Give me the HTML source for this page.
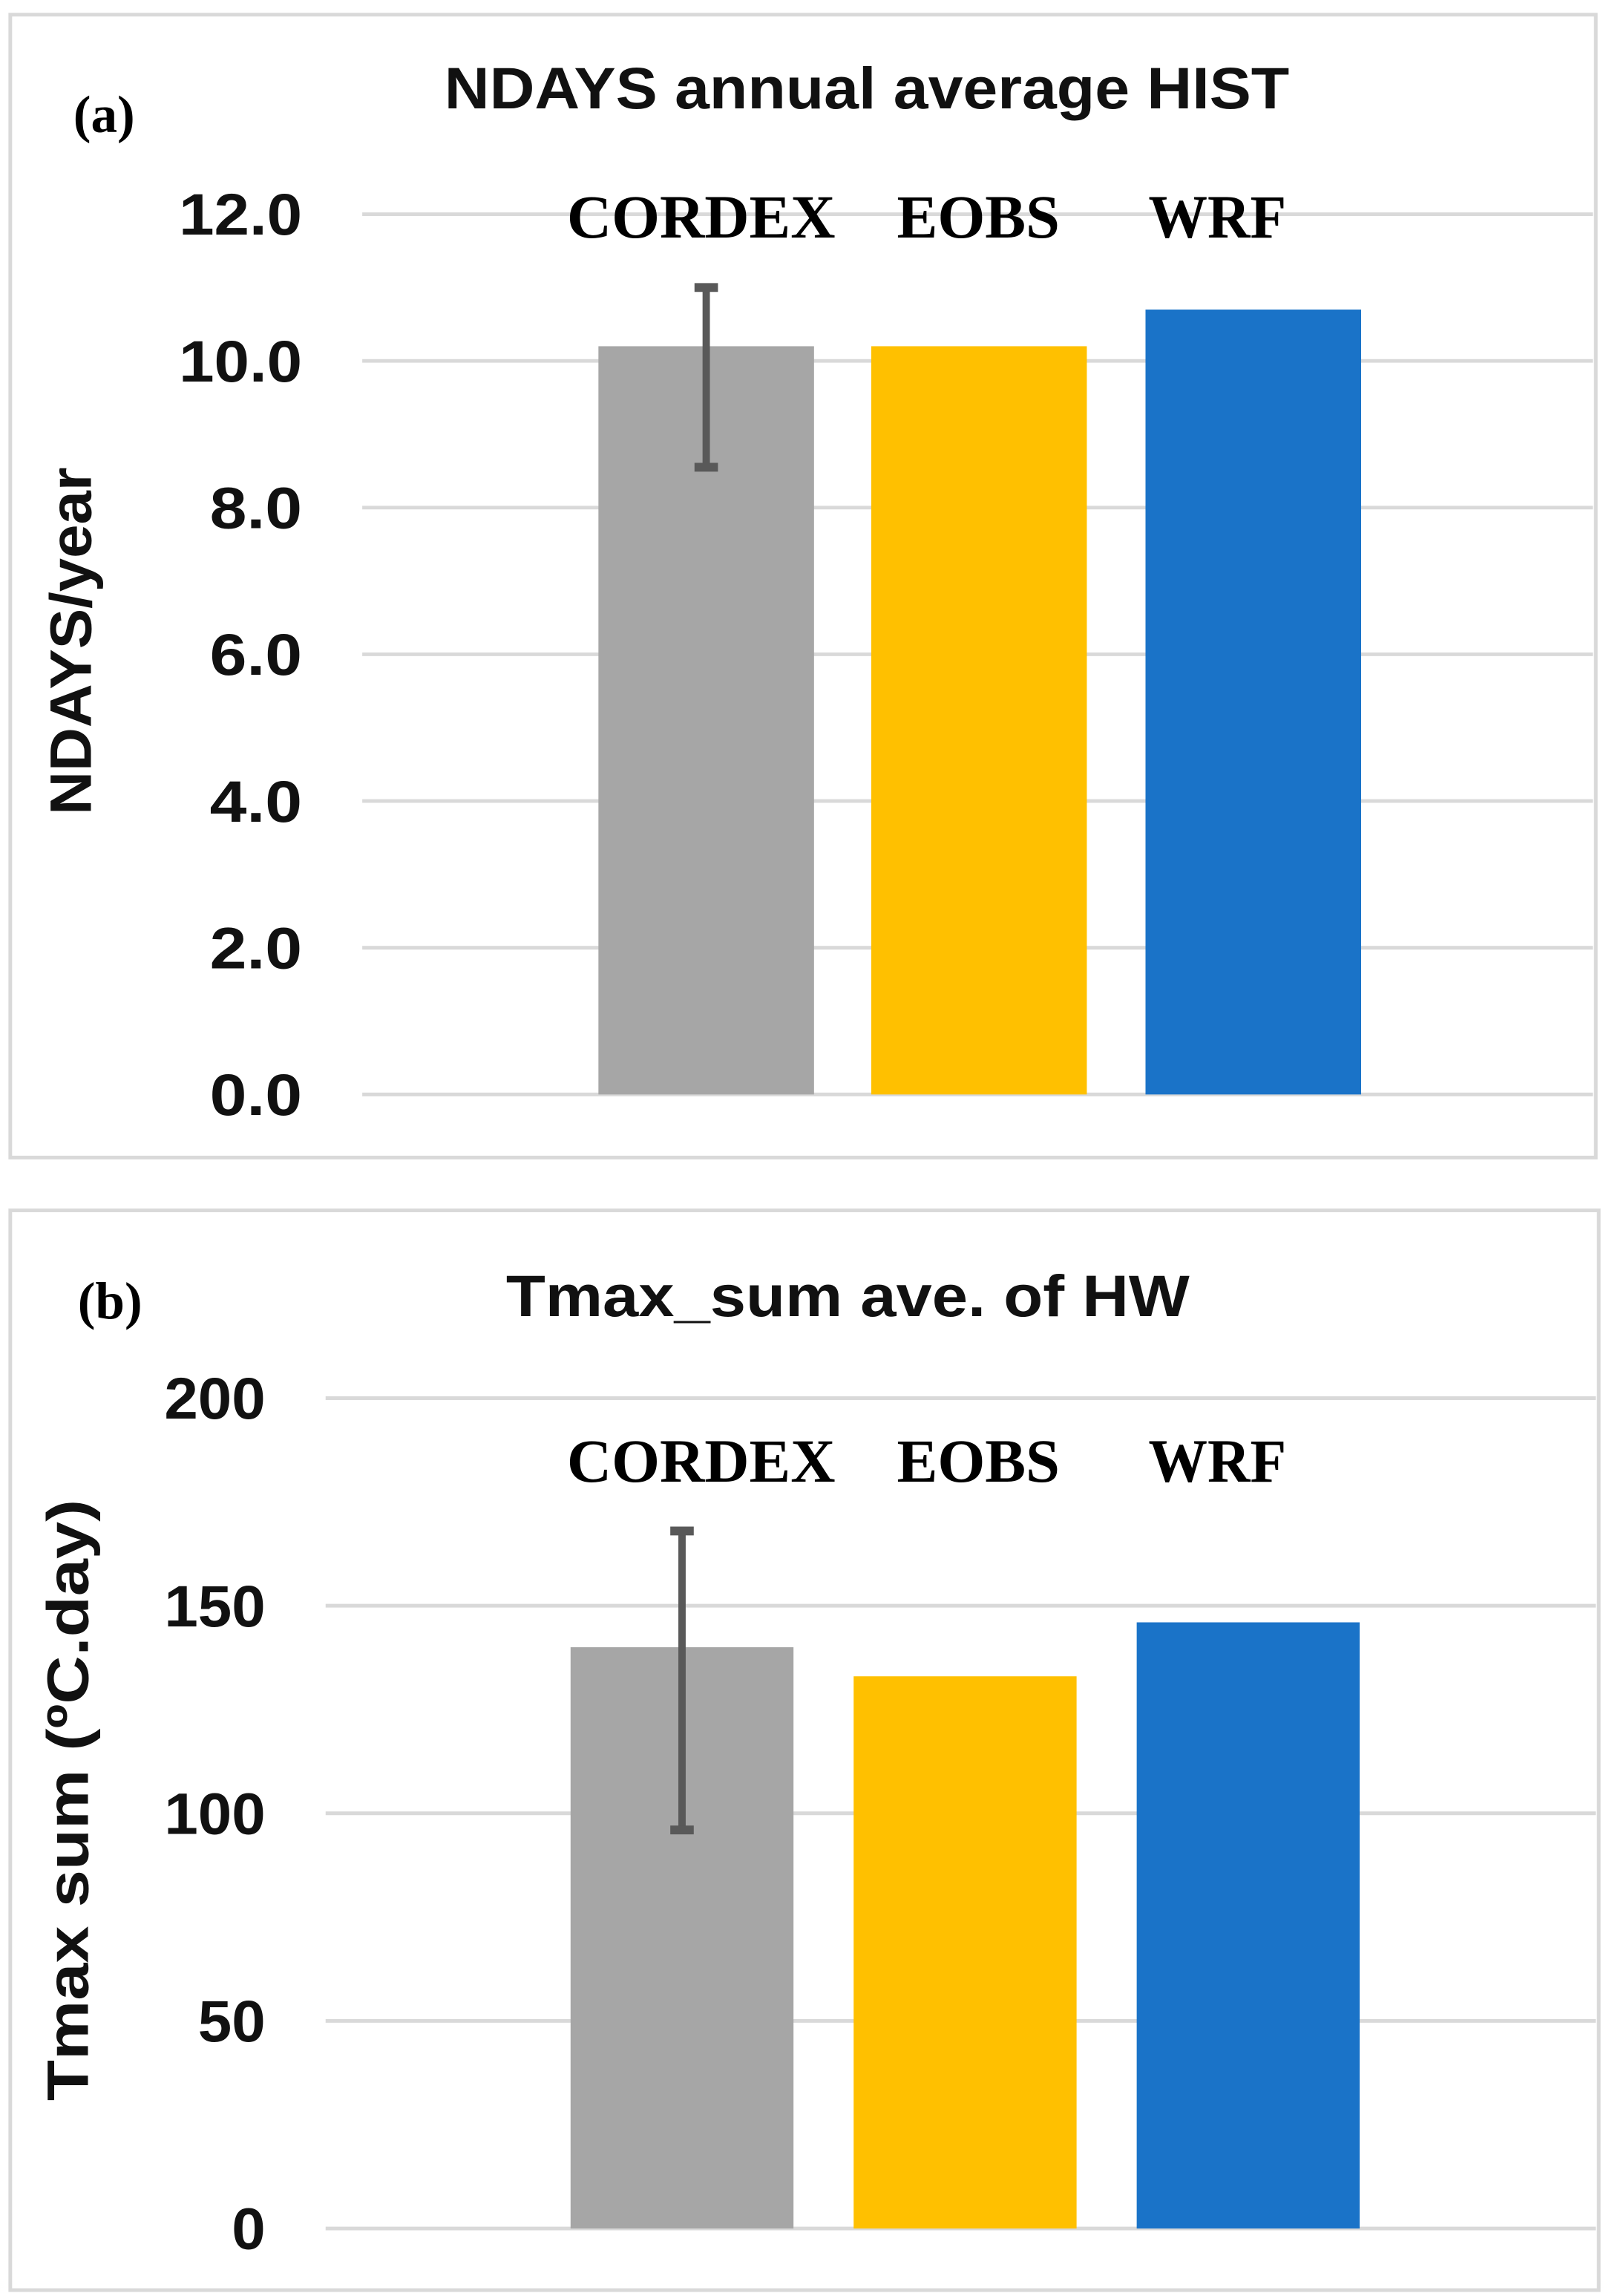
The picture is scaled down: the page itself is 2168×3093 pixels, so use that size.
<!DOCTYPE html>
<html><head><meta charset="utf-8"><style>
html,body{margin:0;padding:0;background:#fff}
svg{display:block}
</style></head><body>
<svg id="fig" width="2168" height="3093" viewBox="0 0 1097 1565" preserveAspectRatio="none" xmlns="http://www.w3.org/2000/svg"></svg>
<script>
const categories = ["CORDEX", "EOBS", "WRF"];
const colors = ["#a6a6a6", "#ffc000", "#1a73c8"];
const valuesA = [10.2, 10.2, 10.7];
const errLowA = 8.55, errHighA = 11.0;
const ticksA = ["0.0","2.0","4.0","6.0","8.0","10.0","12.0"];
const tickValsA = [0,2,4,6,8,10,12];
const valuesB = [140, 133, 146];
const errLowB = 96, errHighB = 168;
const ticksB = ["0","50","100","150","200"];
const tickValsB = [0,50,100,150,200];

const NS = "http://www.w3.org/2000/svg";
const svg = document.getElementById('fig');
const labLens = [183, 111, 94];
function mk(tag, attrs, parent){
  const e = document.createElementNS(NS, tag);
  for (const k in attrs) e.setAttribute(k, attrs[k]);
  (parent||svg).appendChild(e);
  return e;
}
function panel(cfg){
  const g = mk('g', {});
  
  
  const border = mk('rect', {x:cfg.bx, y:cfg.by, width:cfg.bw, height:cfg.bh, fill:'#fff', stroke:'#d9d9d9', 'stroke-width':2.5}, g);
  
  
  const y = v => cfg.y0 + (cfg.yTop - cfg.y0) * v / cfg.vmax;
  cfg.tickVals.forEach((tv, i) => {
    const ln = mk('line', {x1:cfg.gx1, x2:cfg.gx2, y1:y(tv), y2:y(tv), stroke:'#d9d9d9', 'stroke-width':2.5}, g);
    
    
    const lbl = cfg.ticks[i];
    const t = mk('text', {x:cfg.tickX, y:y(tv)+14, 'text-anchor':'end', 'font-family':'Liberation Sans, sans-serif', 'font-weight':'bold', 'font-size':40, fill:'#111', textLength:lbl.length*cfg.charW, lengthAdjust:'spacingAndGlyphs'}, g);
    t.textContent = lbl;
    
    
  });
  cfg.values.forEach((v, i) => {
    const x = cfg.barX[i];
    const r = mk('rect', {x:x, y:y(v), width:cfg.barW, height:y(0)-y(v), fill:colors[i]}, g);
    
    
    const t = mk('text', {x:cfg.labX[i], y:cfg.labY, 'text-anchor':'middle', 'font-family':'Liberation Serif, serif', 'font-weight':'bold', 'font-size':42, fill:'#000', textLength:labLens[i], lengthAdjust:'spacingAndGlyphs'}, g);
    t.textContent = categories[i];
    
    
  });
  const ex = cfg.barX[0] + cfg.barW/2;
  const e1 = mk('line', {x1:ex, x2:ex, y1:y(cfg.errHigh), y2:y(cfg.errLow), stroke:'#595959', 'stroke-width':5}, g);
  
  
  [cfg.errHigh, cfg.errLow].forEach(v => {
    const c = mk('line', {x1:ex-8, x2:ex+8, y1:y(v), y2:y(v), stroke:'#595959', 'stroke-width':6}, g);
    
    
  });
  const tt = mk('text', {x:cfg.titleX, y:cfg.titleY, 'text-anchor':'middle', 'font-family':'Liberation Sans, sans-serif', 'font-weight':'bold', 'font-size':40, fill:'#111', textLength:cfg.titleLen, lengthAdjust:'spacingAndGlyphs'}, g);
  tt.textContent = cfg.title;
  
  
  const pl = mk('text', {x:cfg.plX, y:cfg.plY, 'font-family':'Liberation Serif, serif', 'font-weight':'bold', 'font-size':36, fill:'#000'}, g);
  pl.textContent = cfg.panelLabel;
  
  
  const yt = mk('text', {x:0, y:0, transform:`translate(${cfg.ytX},${cfg.ytY}) rotate(-90)`, 'text-anchor':'middle', 'font-family':'Liberation Sans, sans-serif', 'font-weight':'bold', 'font-size':40, fill:'#111', textLength:cfg.ytLen, lengthAdjust:'spacingAndGlyphs'}, g);
  yt.textContent = cfg.yTitle;
  
  
}
panel({name:'panel-a', bx:7, by:10, bw:1081, bh:779, y0:746, yTop:146, vmax:12, gx1:247, gx2:1086,
  tickVals:tickValsA, ticks:ticksA, tickX:206, charW:21, values:valuesA, barX:[408,594,781], barW:147,
  labX:[478,667,830], labY:162, errLow:errLowA, errHigh:errHighA,
  title:'NDAYS annual  average HIST', titleX:591, titleY:74, titleLen:576, panelLabel:'(a)', plX:50, plY:90,
  yTitle:'NDAYS/year', ytX:62, ytY:437, ytLen:237});
panel({name:'panel-b', bx:7, by:825, bw:1083, bh:736, y0:1519, yTop:953, vmax:200, gx1:222, gx2:1088,
  tickVals:tickValsB, ticks:ticksB, tickX:181, charW:23, values:valuesB, barX:[389,582,775], barW:152,
  labX:[478,667,830], labY:1010, errLow:errLowB, errHigh:errHighB,
  title:'Tmax_sum  ave. of HW', titleX:578, titleY:897, titleLen:466, panelLabel:'(b)', plX:53, plY:899,
  yTitle:'Tmax sum (ºC.day)', ytX:60, ytY:1227, ytLen:410});
</script>
</body></html>
